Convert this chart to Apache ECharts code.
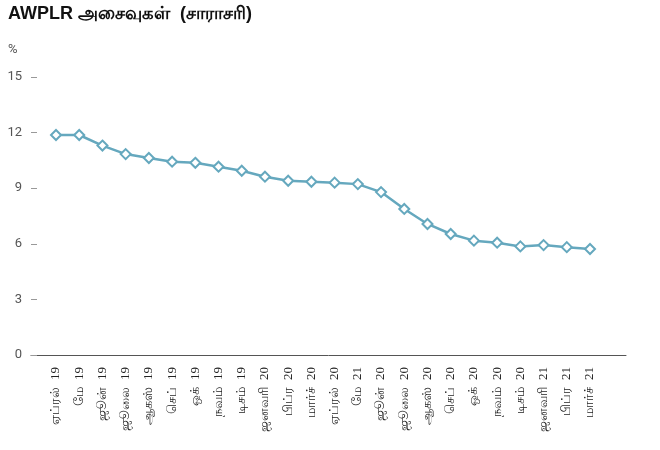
<!DOCTYPE html>
<html>
<head>
<meta charset="utf-8">
<script src="https://cdn.jsdelivr.net/npm/echarts@6/dist/echarts.min.js"></script>
<style>
    html, body { margin: 0; padding: 0; background: #fff; }
    #mainChart { width: 660px; height: 450px; }
</style>
</head>
<body>
<div id="mainChart"></div>
<script>
// மாதங்கள் (x அச்சு)
const months = ['ஏப்ரல்  19', 'மே  19', 'ஜூன்  19', 'ஜூலை  19', 'ஆகஸ்  19', 'செப்  19', 'ஒக்  19', 'நவம்  19',
    'டிசம்  19', 'ஜனவரி  20', 'பிப்ர  20', 'மார்ச்  20', 'ஏப்ரல்  20', 'மே  21', 'ஜூன்  20', 'ஜூலை  20',
    'ஆகஸ்  20', 'செப்  20', 'ஒக்  20', 'நவம்  20', 'டிசம்  20', 'ஜனவரி  21', 'பிப்ர  21', 'மார்ச்  21'];
// AWPLR சராசரி (%)
const awplr = [11.87, 11.87, 11.30, 10.84, 10.63, 10.43, 10.37, 10.16, 9.94, 9.62, 9.40, 9.35,
    9.30, 9.22, 8.79, 7.88, 7.07, 6.53, 6.17, 6.06, 5.86, 5.93, 5.82, 5.72];
const yTicks = [0, 3, 6, 9, 12, 15];

const lineColor = '#65a8be';

const myChart = echarts.init(document.getElementById('mainChart'));

const idx = months.map(function (m, i) { return i; });
const seriesData = awplr.map(function (v, i) { return [i, v]; });

const option = {
    animation: false,
    title: [
        {
            text: 'AWPLR அசைவுகள்  (சாராசரி)',
            left: 3,
            top: 0,
            textStyle: {
                fontFamily: 'Liberation Sans, Arial, sans-serif',
                fontSize: 18,
                fontWeight: 'bold',
                color: '#111'
            }
        },
        {
            text: '%',
            left: 3,
            top: 38,
            textStyle: {
                fontFamily: 'Roboto, sans-serif',
                fontSize: 13,
                fontWeight: 'normal',
                color: '#555'
            }
        }
    ],
    grid: {
        left: 31,
        right: 34,
        top: 77,
        bottom: 95
    },
    xAxis: {
        type: 'value',
        min: -1.077,
        max: 24.55,
        splitLine: { show: false },
        axisTick: { show: false },
        axisLine: {
            show: true,
            lineStyle: { color: '#555', width: 1 }
        },
        axisLabel: {
            customValues: idx,
            rotate: 90,
            margin: 12,
            fontSize: 13,
            color: '#222',
            fontFamily: 'Liberation Serif, serif',
            formatter: function (v) { return months[v]; }
        }
    },
    yAxis: {
        type: 'value',
        min: 0,
        max: 15,
        interval: 3,
        splitLine: { show: false },
        axisLine: { show: false, onZero: false },
        axisTick: {
            show: true,
            inside: true,
            length: 6,
            lineStyle: { color: '#999' }
        },
        axisLabel: {
            margin: 9,
            fontSize: 13,
            color: '#555',
            fontFamily: 'Roboto, sans-serif',
            customValues: yTicks
        }
    },
    series: [
        {
            name: 'AWPLR',
            type: 'line',
            data: seriesData,
            symbol: 'emptyDiamond',
            symbolSize: 10,
            lineStyle: { color: lineColor, width: 2.5 },
            itemStyle: { color: lineColor, borderWidth: 2.5 }
        }
    ]
};
myChart.setOption(option);
</script>
</body>
</html>
